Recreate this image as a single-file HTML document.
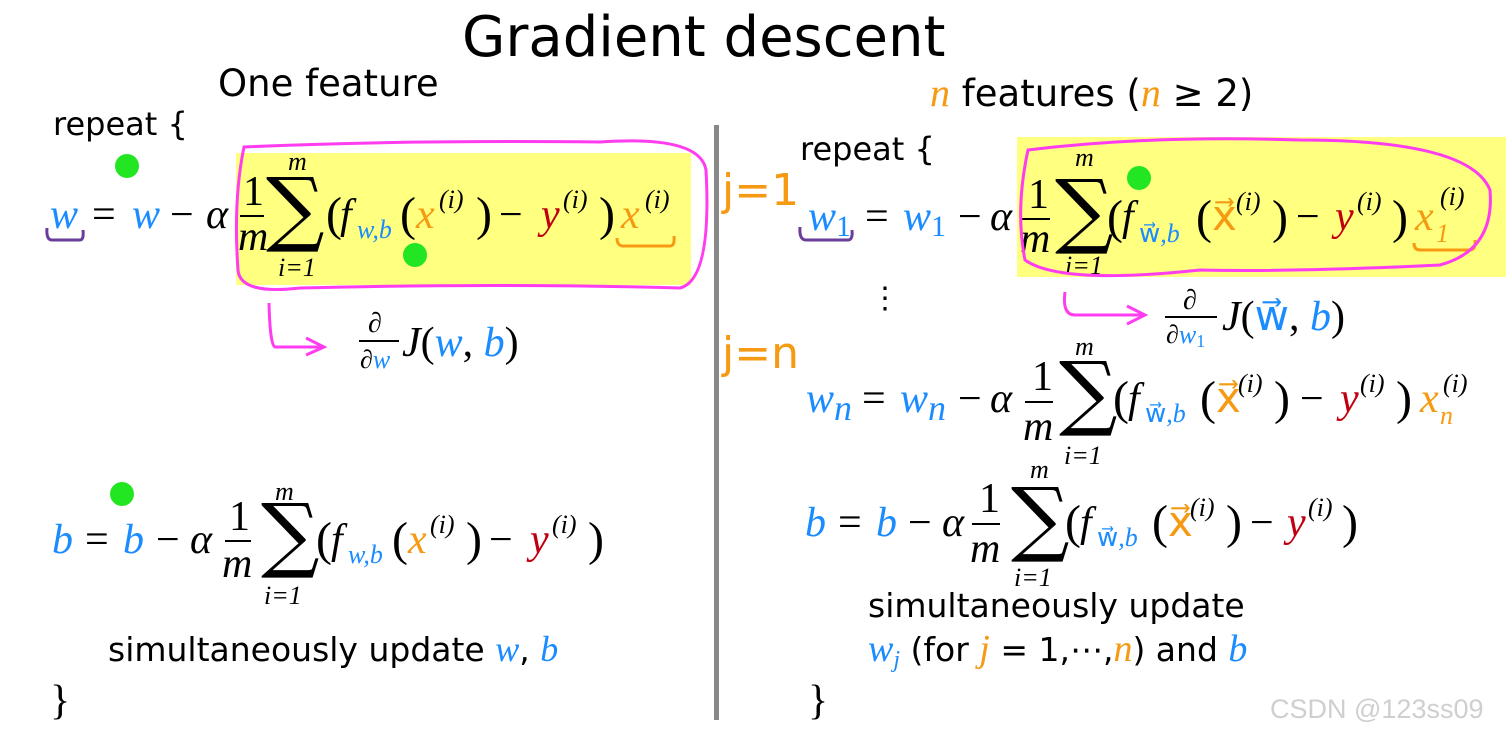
<!DOCTYPE html>
<html><head><meta charset="utf-8"><style>
html,body{margin:0;padding:0;background:#fff;}
.m{font-style:italic;font-size:42px;font-family:"Liberation Serif",serif;}
.r{font-size:42px;font-family:"Liberation Serif",serif;}
.s{font-style:italic;font-size:26px;font-family:"Liberation Serif",serif;}
.t{font-family:"DejaVu Sans","Liberation Sans",sans-serif;}
.ls{font-family:"Liberation Sans",sans-serif;}
.B{fill:#1a8cff}.O{fill:#f59a12}.R{fill:#c00010}
.sig{font-size:82px;font-family:"DejaVu Serif",serif;}
.par{font-size:48px;font-family:"Liberation Serif",serif;}
</style></head><body>
<svg width="1506" height="735" viewBox="0 0 1506 735" xmlns="http://www.w3.org/2000/svg" font-family="Liberation Serif, serif">
<rect x="236" y="153" width="455" height="132" fill="#ffff80"/>
<rect x="1017" y="137" width="489" height="140" fill="#ffff80"/>
<rect x="714" y="125" width="5" height="595" fill="#888"/>

<text class="t" x="462" y="56" font-size="56">Gradient descent</text>
<text class="t" x="218" y="96" font-size="37">One feature</text>
<text class="t" x="53" y="135" font-size="32">repeat {</text>

<!-- left w eq -->
<text class="m B" x="50" y="228">w</text>
<text class="r" x="92" y="228">=</text>
<text class="m B" x="132" y="228">w</text>
<text class="r" x="170" y="228">−</text>
<text class="m" x="206" y="228">α</text>
<text class="r" x="243" y="205">1</text>
<rect x="240" y="215" width="24" height="2"/>
<text class="m" x="238" y="250">m</text>
<text class="sig" x="266" y="236">∑</text>
<text class="s" x="288" y="170">m</text>
<text class="s" x="278" y="276">i=1</text>
<text class="par" x="326" y="230">(</text>
<text class="m" x="340" y="228">f</text>
<text class="s B" x="357" y="238">w,b</text>
<text class="par" x="400" y="230">(</text>
<text class="m O" x="416" y="228">x</text>
<text class="s" x="439" y="208">(i)</text>
<text class="par" x="476" y="230">)</text>
<text class="r" x="499" y="228">−</text>
<text class="m R" x="541" y="228">y</text>
<text class="s" x="563" y="208">(i)</text>
<text class="par" x="599" y="230">)</text>
<text class="m O" x="621" y="228">x</text>
<text class="s" x="645" y="208">(i)</text>
<path d="M47,228 Q46,240 52,240 L80,240 Q84,240 83,230" fill="none" stroke="#6a3d9a" stroke-width="3"/>
<path d="M617,238 Q617,247 625,246 L670,246 Q675,246 674,236" fill="none" stroke="#f59a12" stroke-width="3"/>
<path d="M244,147 Q400,140 600,142 Q700,135 706,170 Q712,280 680,288 Q500,283 300,288 Q240,295 238,270 Q233,200 244,147 Z" fill="none" stroke="#ff3cf0" stroke-width="3"/>
<path d="M269,303 Q270,345 275,347 L322,347 M306,338 L324,347 L306,355" fill="none" stroke="#ff3cf0" stroke-width="3"/>
<text x="368" y="332" font-size="28" font-style="italic">∂</text>
<rect x="359" y="340" width="40" height="2"/>
<text class="s" x="360" y="368">∂<tspan class="B">w</tspan></text>
<text class="m" x="402" y="356">J<tspan font-style="normal">(</tspan><tspan class="B">w</tspan><tspan font-style="normal">, </tspan><tspan class="B">b</tspan><tspan font-style="normal">)</tspan></text>

<!-- left b eq -->
<text class="m B" x="52" y="553">b</text>
<text class="r" x="85" y="553">=</text>
<text class="m B" x="123" y="553">b</text>
<text class="r" x="156" y="553">−</text>
<text class="m" x="190" y="553">α</text>
<text class="r" x="229" y="530">1</text>
<rect x="225" y="540" width="26" height="2"/>
<text class="m" x="222" y="577">m</text>
<text class="sig" x="261" y="562">∑</text>
<text class="s" x="275" y="500">m</text>
<text class="s" x="264" y="604">i=1</text>
<text class="par" x="316" y="555">(</text>
<text class="m" x="331" y="553">f</text>
<text class="s B" x="348" y="563">w,b</text>
<text class="par" x="392" y="555">(</text>
<text class="m O" x="408" y="553">x</text>
<text class="s" x="430" y="533">(i)</text>
<text class="par" x="466" y="555">)</text>
<text class="r" x="489" y="553">−</text>
<text class="m R" x="530" y="553">y</text>
<text class="s" x="552" y="533">(i)</text>
<text class="par" x="588" y="555">)</text>
<text class="t" x="108" y="661" font-size="33">simultaneously update <tspan class="B" font-family="Liberation Serif" font-style="italic" font-size="36">w</tspan>, <tspan class="B" font-family="Liberation Serif" font-style="italic" font-size="36">b</tspan></text>
<text class="r" x="50" y="714" font-size="42">}</text>

<circle cx="127" cy="166" r="12" fill="#22e622"/>
<circle cx="415" cy="255" r="12" fill="#22e622"/>
<circle cx="122" cy="494" r="12" fill="#22e622"/>
<circle cx="1139" cy="178" r="12" fill="#22e622"/>

<!-- right -->
<text class="t" x="930" y="106" font-size="37"><tspan class="O" font-family="Liberation Serif" font-style="italic" font-size="40">n</tspan> features (<tspan class="O" font-family="Liberation Serif" font-style="italic" font-size="40">n</tspan> ≥ 2)</text>
<text class="t" x="800" y="160" font-size="32">repeat {</text>
<text class="t" x="722" y="205" font-size="44" fill="#f59a12">j=1</text>
<text class="t" x="722" y="368" font-size="44" fill="#f59a12">j=n</text>

<text class="m B" x="808" y="230">w<tspan font-style="normal" font-size="30" dy="6">1</tspan></text>
<text class="r" x="865" y="230">=</text>
<text class="m B" x="903" y="230">w<tspan font-style="normal" font-size="30" dy="6">1</tspan></text>
<text class="r" x="958" y="230">−</text>
<text class="m" x="990" y="230">α</text>
<text class="r" x="1028" y="208">1</text>
<rect x="1022" y="218" width="28" height="2"/>
<text class="m" x="1020" y="252">m</text>
<text class="sig" x="1055" y="238">∑</text>
<text class="s" x="1075" y="166">m</text>
<text class="s" x="1065" y="274">i=1</text>
<text class="par" x="1107" y="233">(</text>
<text class="m" x="1122" y="230">f</text>
<text class="s B" x="1139" y="242"><tspan font-style="normal">w⃗</tspan>,b</text>
<text class="par" x="1196" y="233">(</text>
<text class="r O" x="1212" y="230">x⃗</text>
<text class="s" x="1236" y="210">(i)</text>
<text class="par" x="1272" y="233">)</text>
<text class="r" x="1296" y="230">−</text>
<text class="m R" x="1335" y="230">y</text>
<text class="s" x="1357" y="210">(i)</text>
<text class="par" x="1392" y="233">)</text>
<text class="m O" x="1415" y="230">x</text>
<text class="s O" x="1436" y="242" font-style="normal">1</text>
<text class="s" x="1440" y="205">(i)</text>
<path d="M800,227 Q799,240 806,240 L848,240 Q853,240 852,230" fill="none" stroke="#6a3d9a" stroke-width="3"/>
<path d="M1414,243 Q1414,250 1420,250 L1470,250 Q1476,250 1475,240" fill="none" stroke="#f59a12" stroke-width="3"/>
<path d="M1028,150 Q1150,135 1300,140 Q1470,140 1490,190 Q1495,250 1440,265 Q1300,272 1200,270 Q1060,285 1025,260 Q1015,210 1028,150 Z" fill="none" stroke="#ff3cf0" stroke-width="3"/>
<path d="M1065,292 Q1062,315 1075,315 L1142,315 M1127,306 L1145,315 L1127,324" fill="none" stroke="#ff3cf0" stroke-width="3"/>
<text x="870" y="308" font-size="30">⋮</text>
<text x="1183" y="309" font-size="28" font-style="italic">∂</text>
<rect x="1165" y="316" width="52" height="2"/>
<text class="s" x="1166" y="343">∂<tspan class="B">w</tspan><tspan class="B" font-style="normal" font-size="18" dy="4">1</tspan></text>
<text class="m" x="1222" y="330">J<tspan font-style="normal">(</tspan><tspan class="B" font-style="normal">w⃗</tspan><tspan font-style="normal">, </tspan><tspan class="B">b</tspan><tspan font-style="normal">)</tspan></text>

<text class="m B" x="806" y="412">w<tspan font-size="36" dy="8">n</tspan></text>
<text class="r" x="862" y="412">=</text>
<text class="m B" x="900" y="412">w<tspan font-size="36" dy="8">n</tspan></text>
<text class="r" x="958" y="412">−</text>
<text class="m" x="990" y="412">α</text>
<text class="r" x="1032" y="390">1</text>
<rect x="1025" y="401" width="28" height="2"/>
<text class="m" x="1023" y="440">m</text>
<text class="sig" x="1059" y="420">∑</text>
<text class="s" x="1075" y="355">m</text>
<text class="s" x="1064" y="464">i=1</text>
<text class="par" x="1113" y="414">(</text>
<text class="m" x="1128" y="412">f</text>
<text class="s B" x="1145" y="422"><tspan font-style="normal">w⃗</tspan>,b</text>
<text class="par" x="1200" y="414">(</text>
<text class="r O" x="1216" y="412">x⃗</text>
<text class="s" x="1238" y="392">(i)</text>
<text class="par" x="1274" y="414">)</text>
<text class="r" x="1300" y="412">−</text>
<text class="m R" x="1340" y="412">y</text>
<text class="s" x="1360" y="392">(i)</text>
<text class="par" x="1396" y="414">)</text>
<text class="m O" x="1420" y="412">x</text>
<text class="s O" x="1440" y="424">n</text>
<text class="s" x="1443" y="392">(i)</text>

<text class="m B" x="805" y="536">b</text>
<text class="r" x="838" y="536">=</text>
<text class="m B" x="876" y="536">b</text>
<text class="r" x="908" y="536">−</text>
<text class="m" x="942" y="536">α</text>
<text class="r" x="979" y="512">1</text>
<rect x="972" y="523" width="28" height="2"/>
<text class="m" x="970" y="562">m</text>
<text class="sig" x="1011" y="546">∑</text>
<text class="s" x="1030" y="478">m</text>
<text class="s" x="1014" y="586">i=1</text>
<text class="par" x="1065" y="538">(</text>
<text class="m" x="1080" y="536">f</text>
<text class="s B" x="1097" y="546"><tspan font-style="normal">w⃗</tspan>,b</text>
<text class="par" x="1152" y="538">(</text>
<text class="r O" x="1168" y="536">x⃗</text>
<text class="s" x="1190" y="516">(i)</text>
<text class="par" x="1226" y="538">)</text>
<text class="r" x="1250" y="536">−</text>
<text class="m R" x="1287" y="536">y</text>
<text class="s" x="1308" y="516">(i)</text>
<text class="par" x="1342" y="538">)</text>

<text class="t" x="868" y="617" font-size="33">simultaneously update</text>
<text class="t" x="868" y="661" font-size="33"><tspan class="B" font-family="Liberation Serif" font-style="italic" font-size="38">w</tspan><tspan class="B" font-family="Liberation Serif" font-style="italic" font-size="24" dy="6">j</tspan><tspan dy="-6"> (for </tspan><tspan class="O" font-family="Liberation Serif" font-style="italic" font-size="38">j</tspan> = 1,⋯,<tspan class="O" font-family="Liberation Serif" font-style="italic" font-size="38">n</tspan>) and <tspan class="B" font-family="Liberation Serif" font-style="italic" font-size="38">b</tspan></text>
<text class="r" x="808" y="714" font-size="42">}</text>
<text class="ls" x="1270" y="718" font-size="27" fill="#cfcfcf">CSDN @123ss09</text>
</svg>
</body></html>
